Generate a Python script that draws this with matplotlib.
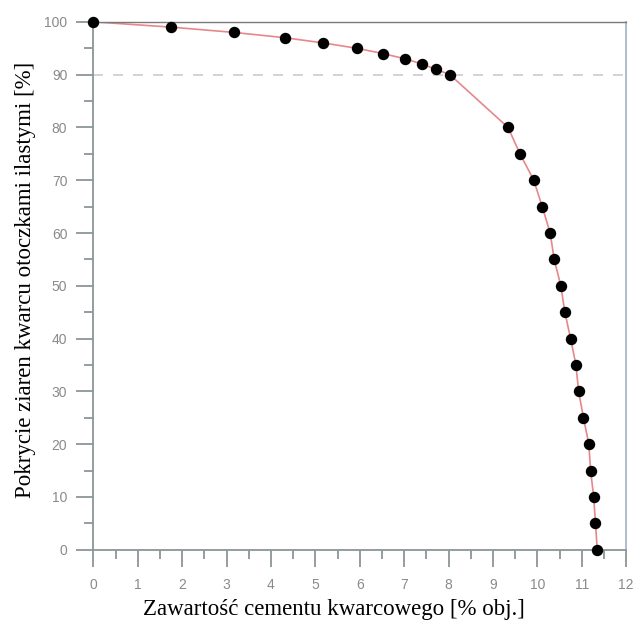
import matplotlib
matplotlib.use("Agg")
import matplotlib.pyplot as plt
from matplotlib.ticker import MultipleLocator

# cement content [% vol.] vs. coverage of quartz grains with clay coatings [%]
cement = [0.0, 1.75, 3.16, 4.31, 5.18, 5.93, 6.52, 7.02, 7.41, 7.72, 8.03,
          9.34, 9.61, 9.92, 10.11, 10.29, 10.38, 10.53, 10.62, 10.75,
          10.87, 10.93, 11.04, 11.16, 11.20, 11.27, 11.31, 11.35]
coverage = [100, 99, 98, 97, 96, 95, 94, 93, 92, 91, 90,
            80, 75, 70, 65, 60, 55, 50, 45, 40,
            35, 30, 25, 20, 15, 10, 5, 0]

xlabel = "Zawartość cementu kwarcowego [% obj.]"
ylabel = "Pokrycie ziaren kwarcu otoczkami ilastymi [%]"

axis_grey = "#8c9696"
label_grey = "#8a8a8a"

fig = plt.figure(figsize=(6.35, 6.24), dpi=100)
ax = fig.add_axes([0.147, 0.119, 0.839, 0.846])

ax.axhline(90, color="#cccccc", lw=1.2, ls=(0, (6, 6)), zorder=1)
ax.plot(cement, coverage, color="#e8868a", lw=1.2, zorder=2)
ax.plot(cement, coverage, "o", color="black", ms=7.2, zorder=3, clip_on=False)

ax.set_xlim(0, 12)
ax.set_ylim(0, 100)
ax.xaxis.set_major_locator(MultipleLocator(1))
ax.xaxis.set_minor_locator(MultipleLocator(0.5))
ax.yaxis.set_major_locator(MultipleLocator(10))
ax.yaxis.set_minor_locator(MultipleLocator(5))

ax.tick_params(which="major", direction="out", length=12, width=1.3,
               color=axis_grey, labelcolor=label_grey, labelsize=10)
ax.tick_params(axis="x", which="major", pad=8.5)
ax.tick_params(axis="y", which="major", pad=6.7)
ax.tick_params(which="minor", direction="out", length=6.5, width=1.3,
               color=axis_grey)
for lab in ax.get_xticklabels() + ax.get_yticklabels():
    lab.set_family("Liberation Sans")

ax.spines["left"].set_color(axis_grey)
ax.spines["bottom"].set_color(axis_grey)
ax.spines["left"].set_linewidth(1.3)
ax.spines["bottom"].set_linewidth(1.3)
ax.spines["top"].set_color("#7a7a7a")
ax.spines["top"].set_linewidth(1.0)
ax.spines["right"].set_color("#a8b8c8")
ax.spines["right"].set_linewidth(1.3)

ax.set_xlabel(xlabel, family="Liberation Serif", fontsize=16.5, color="black")
ax.set_ylabel(ylabel, family="Liberation Serif", fontsize=16.5, color="black")
ax.xaxis.set_label_coords(0.451, -0.114)
ax.xaxis.label.set_va("center")
ax.yaxis.set_label_coords(-0.128, 0.512)
ax.yaxis.label.set_va("center")

fig.savefig("out.png", dpi=100)
